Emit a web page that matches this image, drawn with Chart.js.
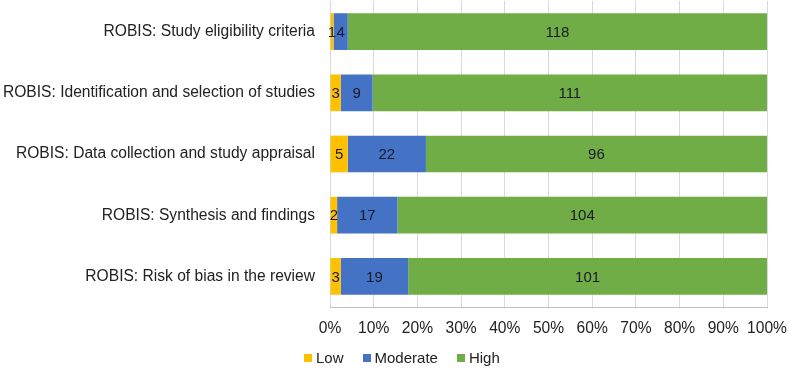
<!DOCTYPE html>
<html>
<head>
<meta charset="utf-8">
<script src="https://cdn.jsdelivr.net/npm/chart.js@4.4.1/dist/chart.umd.min.js"></script>
<style>
  html, body { margin: 0; padding: 0; background: #fff; }
  #wrap { position: relative; width: 789px; height: 368px; }
  #legend { position: absolute; left: 304px; top: 349px; font: 15px "Liberation Sans", Arial, sans-serif; color: #222; white-space: nowrap; }
  #legend span.item { margin-right: 19px; }
  #legend span.box { display: inline-block; width: 8px; height: 8px; margin-right: 4px; vertical-align: 1px; }
</style>
</head>
<body>
<div id="wrap">
  <canvas id="robisChart" width="789" height="368"></canvas>
  <div id="legend"></div>
</div>
<script>
const categories = [
    'ROBIS: Study eligibility criteria',
    'ROBIS: Identification and selection of studies',
    'ROBIS: Data collection and study appraisal',
    'ROBIS: Synthesis and findings',
    'ROBIS: Risk of bias in the review'
];
const lowValues = [1, 3, 5, 2, 3];
const moderateValues = [4, 9, 22, 17, 19];
const highValues = [118, 111, 96, 104, 101];
const seriesNames = ['Low', 'Moderate', 'High'];
const seriesColors = ['#FFC000', '#4472C4', '#70AD47'];

// row totals, used to turn counts into percentages
const totals = categories.map((c, i) => lowValues[i] + moderateValues[i] + highValues[i]);
const toPct = arr => arr.map((v, i) => v / totals[i] * 100);
const rawValues = [lowValues, moderateValues, highValues];

// draws the count in the middle of each segment
const segmentLabels = {
    id: 'segmentLabels',
    afterDatasetsDraw(chart) {
        const ctx = chart.ctx;
        ctx.save();
        ctx.font = '15px "Liberation Sans", Arial, sans-serif';
        ctx.fillStyle = '#1a1a2a';
        ctx.textAlign = 'center';
        ctx.textBaseline = 'middle';
        chart.data.datasets.forEach((ds, di) => {
            const meta = chart.getDatasetMeta(di);
            meta.data.forEach((bar, i) => {
                const cx = (bar.x + bar.base) / 2;
                ctx.fillText(String(rawValues[di][i]), cx, bar.y + 1);
            });
        });
        ctx.restore();
    }
};

const robisCtx = document.getElementById('robisChart').getContext('2d');

const robisChart = new Chart(robisCtx, {
    type: 'bar',
    data: {
        labels: categories,
        datasets: seriesNames.map((name, k) => ({
            label: name,
            data: toPct(rawValues[k]),
            backgroundColor: seriesColors[k],
            borderWidth: 0,
            categoryPercentage: 1,
            barPercentage: 0.6
        }))
    },
    options: {
        indexAxis: 'y',
        responsive: false,
        animation: false,
        layout: { padding: { top: 1, right: 22, bottom: 0, left: 0 } },
        scales: {
            x: {
                stacked: true,
                min: 0,
                max: 100,
                ticks: {
                    stepSize: 10,
                    padding: 12,
                    maxRotation: 0,
                    minRotation: 0,
                    autoSkip: false,
                    color: '#222',
                    font: { family: '"Liberation Sans", Arial, sans-serif', size: 15.6 },
                    callback: v => v + '%'
                },
                grid: { color: '#d9d9d9', drawTicks: false },
                border: { color: '#bfbfbf' },
                afterFit: s => { s.height = 61; s.paddingLeft = 0; s.paddingRight = 0; }
            },
            y: {
                stacked: true,
                ticks: {
                    padding: 15,
                    color: '#222',
                    font: { family: '"Liberation Sans", Arial, sans-serif', size: 15.6 }
                },
                grid: { display: false, drawTicks: false },
                border: { display: false },
                afterFit: s => { s.width = 330; s.paddingTop = 0; s.paddingBottom = 0; }
            }
        },
        plugins: {
            legend: { display: false },
            tooltip: { enabled: false }
        }
    },
    plugins: [segmentLabels]
});

// legend below the axis, as in the original figure
document.getElementById('legend').innerHTML = seriesNames.map((n, k) =>
    '<span class="item"><span class="box" style="background:' + seriesColors[k] + '"></span>' + n + '</span>'
).join('');
</script>
</body>
</html>
